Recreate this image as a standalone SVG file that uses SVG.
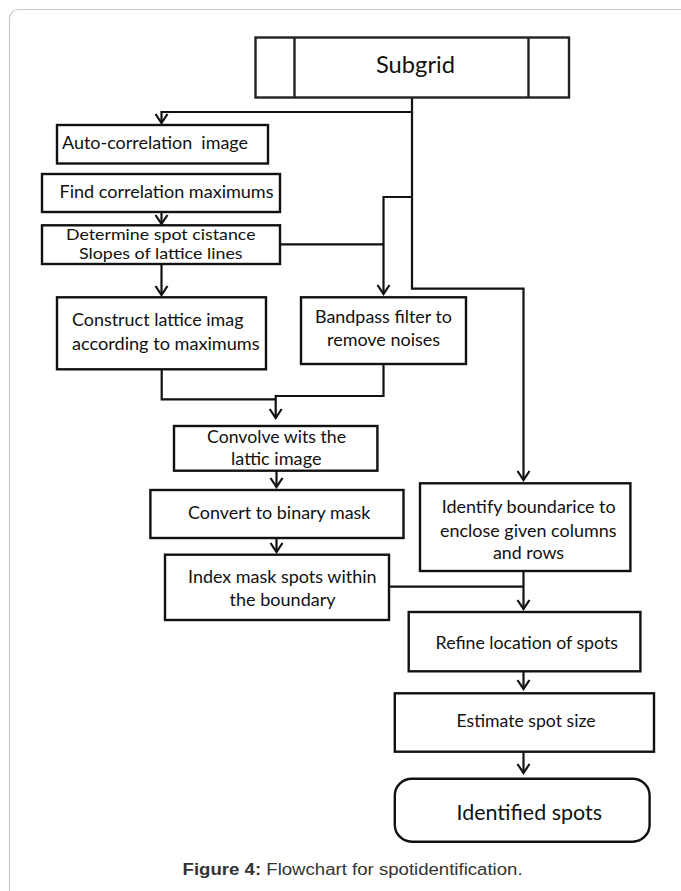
<svg xmlns="http://www.w3.org/2000/svg" width="681" height="891" viewBox="0 0 681 891">
<defs>
<style>
.box{fill:#fff;stroke:#111;stroke-width:2.4}
.t{font-family:Lato,"Open Sans","Liberation Sans",sans-serif;font-size:18px;fill:#111;white-space:pre}
.s{font-size:16px}
.c{fill:none;stroke:#111;stroke-width:2.2}
.cap{font-family:"Liberation Sans",Arial,sans-serif;font-size:16px;fill:#333}
</style>
<marker id="ah" markerUnits="userSpaceOnUse" markerWidth="14" markerHeight="16" refX="0" refY="0" viewBox="-11 -8 13 16" orient="auto" overflow="visible">
<path d="M-9,-6 L0,0 L-9,6" fill="none" stroke="#111" stroke-width="2.2"/>
</marker>
</defs>
<rect x="9.5" y="9.5" width="700" height="900" rx="9" fill="#fff" stroke="#c8c8c8" stroke-width="1.2"/>

<g id="connectors">
<path class="c" d="M412,97 V112 H161.5 V123" marker-end="url(#ah)"/>
<path class="c" d="M412,112 V197 H383.5 V294" marker-end="url(#ah)"/>
<path class="c" d="M412,197 V288.7 H523.5 V480" marker-end="url(#ah)"/>
<path class="c" d="M280,244.3 H383.5"/>
<path class="c" d="M161.5,212 V224" marker-end="url(#ah)"/>
<path class="c" d="M161.5,264 V295" marker-end="url(#ah)"/>
<path class="c" d="M161.7,369.3 V399.3 H275.7"/>
<path class="c" d="M383.5,364 V396 H275.7 V418" marker-end="url(#ah)"/>
<path class="c" d="M276.5,470.7 V487" marker-end="url(#ah)"/>
<path class="c" d="M276.5,538 V552" marker-end="url(#ah)"/>
<path class="c" d="M389,586.7 H523.5"/>
<path class="c" d="M523.5,571 V609" marker-end="url(#ah)"/>
<path class="c" d="M523.5,671.3 V689" marker-end="url(#ah)"/>
<path class="c" d="M523.5,751.7 V773" marker-end="url(#ah)"/>
</g>

<g id="subgrid">
<rect class="box" x="255.5" y="37.5" width="313.5" height="60" style="stroke:#222"/>
<line x1="294.5" y1="37.5" x2="294.5" y2="97.5" stroke="#222" stroke-width="2.4"/>
<line x1="528.5" y1="37.5" x2="528.5" y2="97.5" stroke="#222" stroke-width="2.4"/>
<text class="t" x="376" y="73" style="font-size:23px" textLength="79" lengthAdjust="spacingAndGlyphs">Subgrid</text>
</g>

<g id="autocorr">
<rect class="box" x="57" y="125" width="211" height="38.5"/>
<text class="t" x="62" y="148.5" textLength="186" lengthAdjust="spacingAndGlyphs">Auto-correlation  image</text>
</g>

<g id="findmax">
<rect class="box" x="42" y="174" width="238" height="38"/>
<text class="t" x="59.5" y="198" textLength="214" lengthAdjust="spacingAndGlyphs">Find correlation maximums</text>
</g>

<g id="determine">
<rect class="box" x="42" y="225.3" width="238" height="38.7"/>
<text class="t s" x="66" y="240" textLength="189.6" lengthAdjust="spacingAndGlyphs">Determine spot cistance</text>
<text class="t s" x="79" y="259" textLength="163.6" lengthAdjust="spacingAndGlyphs">Slopes of lattice lines</text>
</g>

<g id="construct">
<rect class="box" x="57" y="297.3" width="209" height="72"/>
<text class="t" x="72" y="326" textLength="171.5" lengthAdjust="spacingAndGlyphs">Construct lattice imag</text>
<text class="t" x="72" y="350" textLength="187.6" lengthAdjust="spacingAndGlyphs">according to maximums</text>
</g>

<g id="bandpass">
<rect class="box" x="301" y="297.3" width="165" height="66.7"/>
<text class="t" x="315" y="323.3" textLength="137" lengthAdjust="spacingAndGlyphs">Bandpass filter to</text>
<text class="t" x="327" y="346" textLength="113" lengthAdjust="spacingAndGlyphs">remove noises</text>
</g>

<g id="convolve">
<rect class="box" x="174" y="426" width="203.4" height="44.7"/>
<text class="t" x="207" y="442.7" textLength="139" lengthAdjust="spacingAndGlyphs">Convolve wits the</text>
<text class="t" x="231" y="465.3" textLength="90.5" lengthAdjust="spacingAndGlyphs">lattic image</text>
</g>

<g id="binary">
<rect class="box" x="150.4" y="490" width="253.1" height="48"/>
<text class="t" x="188" y="518.7" textLength="182.4" lengthAdjust="spacingAndGlyphs">Convert to binary mask</text>
</g>

<g id="index">
<rect class="box" x="165" y="554.7" width="224" height="65.3"/>
<text class="t" x="188" y="583.3" textLength="188.5" lengthAdjust="spacingAndGlyphs">Index mask spots within</text>
<text class="t" x="229.6" y="606" textLength="106" lengthAdjust="spacingAndGlyphs">the boundary</text>
</g>

<g id="identify">
<rect class="box" x="420" y="483.3" width="210.4" height="87.7"/>
<text class="t" x="441.7" y="513.3" textLength="174" lengthAdjust="spacingAndGlyphs">Identify boundarice to</text>
<text class="t" x="440" y="536.7" textLength="176.5" lengthAdjust="spacingAndGlyphs">enclose given columns</text>
<text class="t" x="493" y="558.7" textLength="71" lengthAdjust="spacingAndGlyphs">and rows</text>
</g>

<g id="refine">
<rect class="box" x="408.7" y="612" width="231.7" height="59.3"/>
<text class="t" x="435.6" y="648.7" textLength="182.4" lengthAdjust="spacingAndGlyphs">Refine location of spots</text>
</g>

<g id="estimate">
<rect class="box" x="394.8" y="693.3" width="259.2" height="58.4"/>
<text class="t" x="456.5" y="726.7" textLength="139" lengthAdjust="spacingAndGlyphs">Estimate spot size</text>
</g>

<g id="identified">
<rect class="box" x="394.8" y="778.7" width="254.8" height="63" rx="17"/>
<text class="t" x="456.5" y="820" style="font-size:22px" textLength="145.5" lengthAdjust="spacingAndGlyphs">Identified spots</text>
</g>

<text class="cap" x="182.6" y="875" textLength="340" lengthAdjust="spacingAndGlyphs"><tspan font-weight="bold">Figure 4:</tspan> Flowchart for spotidentification.</text>
</svg>
